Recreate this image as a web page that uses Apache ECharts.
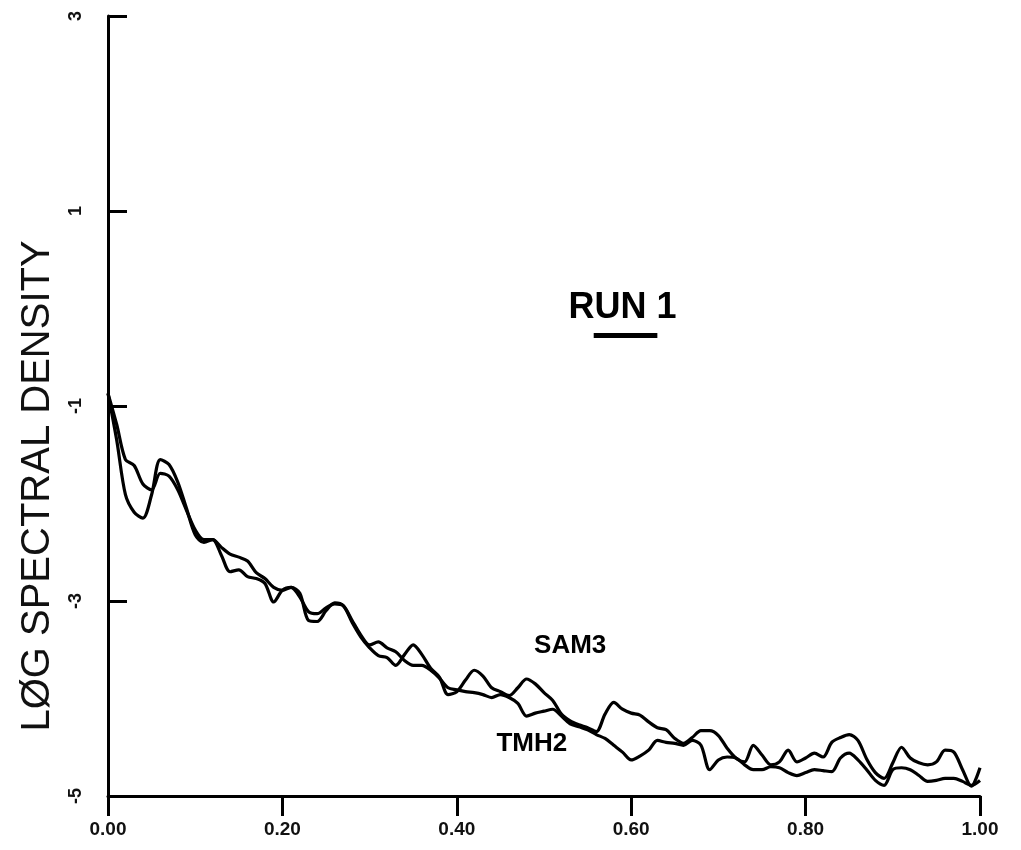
<!DOCTYPE html>
<html>
<head>
<meta charset="utf-8">
<script src="https://cdn.jsdelivr.net/npm/echarts@6/dist/echarts.min.js"></script>
<style>
  html, body { margin: 0; padding: 0; background: #fff; }
  #chart { width: 1021px; height: 850px; }
</style>
</head>
<body>
<div id="chart"></div>
<script>
// frequency (x) and log spectral density for both runs
var freq = [
  0.00, 0.01, 0.02, 0.03, 0.04, 0.05, 0.06, 0.07, 0.08, 0.09,
  0.10, 0.11, 0.12, 0.13, 0.14, 0.15, 0.16, 0.17, 0.18, 0.19,
  0.20, 0.21, 0.22, 0.23, 0.24, 0.25, 0.26, 0.27, 0.28, 0.29,
  0.30, 0.31, 0.32, 0.33, 0.34, 0.35, 0.36, 0.37, 0.38, 0.39,
  0.40, 0.41, 0.42, 0.43, 0.44, 0.45, 0.46, 0.47, 0.48, 0.49,
  0.50, 0.51, 0.52, 0.53, 0.54, 0.55, 0.56, 0.57, 0.58, 0.59,
  0.60, 0.61, 0.62, 0.63, 0.64, 0.65, 0.66, 0.67, 0.68, 0.69,
  0.70, 0.71, 0.72, 0.73, 0.74, 0.75, 0.76, 0.77, 0.78, 0.79,
  0.80, 0.81, 0.82, 0.83, 0.84, 0.85, 0.86, 0.87, 0.88, 0.89,
  0.90, 0.91, 0.92, 0.93, 0.94, 0.95, 0.96, 0.97, 0.98, 0.99,
  1.00
];

var sam3 = [
  -0.87, -1.19, -1.55, -1.61, -1.80, -1.86, -1.69, -1.72, -1.86, -2.07,
  -2.27, -2.37, -2.37, -2.45, -2.52, -2.55, -2.59, -2.71, -2.77, -2.86,
  -2.89, -2.86, -2.92, -3.20, -3.21, -3.10, -3.02, -3.05, -3.22, -3.37,
  -3.48, -3.56, -3.58, -3.66, -3.55, -3.45, -3.55, -3.69, -3.78, -3.96,
  -3.93, -3.81, -3.71, -3.77, -3.89, -3.93, -3.97, -3.89, -3.80, -3.85,
  -3.94, -4.02, -4.16, -4.23, -4.27, -4.30, -4.34, -4.16, -4.04, -4.11,
  -4.15, -4.17, -4.24, -4.30, -4.32, -4.41, -4.46, -4.40, -4.33, -4.33,
  -4.38, -4.51, -4.61, -4.65, -4.48, -4.58, -4.68, -4.65, -4.53, -4.65,
  -4.61, -4.56, -4.60, -4.45, -4.40, -4.37, -4.43, -4.62, -4.76, -4.82,
  -4.66, -4.50, -4.61, -4.66, -4.68, -4.65, -4.53, -4.55, -4.73, -4.90,
  -4.71
];

var tmh2 = [
  -0.87, -1.35, -1.91, -2.09, -2.15, -1.91, -1.55, -1.60, -1.78, -2.05,
  -2.32, -2.40, -2.37, -2.53, -2.70, -2.68, -2.75, -2.77, -2.82, -3.01,
  -2.89, -2.86, -2.96, -3.11, -3.13, -3.07, -3.03, -3.05, -3.20, -3.35,
  -3.45, -3.42, -3.48, -3.52, -3.61, -3.66, -3.66, -3.71, -3.79, -3.89,
  -3.91, -3.93, -3.94, -3.96, -3.99, -3.96, -3.99, -4.05, -4.18, -4.15,
  -4.13, -4.11, -4.18, -4.26, -4.29, -4.32, -4.37, -4.41, -4.48, -4.55,
  -4.63, -4.59, -4.53, -4.43, -4.45, -4.46, -4.48, -4.43, -4.48, -4.73,
  -4.63, -4.60, -4.61, -4.68, -4.73, -4.73, -4.70, -4.71, -4.76, -4.79,
  -4.76, -4.73, -4.74, -4.75, -4.61, -4.56, -4.63, -4.73, -4.84, -4.89,
  -4.73, -4.71, -4.73, -4.79, -4.85, -4.84, -4.82, -4.82, -4.85, -4.89,
  -4.84
];

// hand written notes on the plot, placed in data coordinates
var noteNames = ['RUN 1', 'SAM3', 'TMH2'];
var noteCoords = [[0.590, 0.0], [0.530, -3.46], [0.486, -4.46]];
var noteSizes = [36, 26, 26];
var runUnderline = [[0.557, -0.27], [0.630, -0.27]];

function pairs(xs, ys) {
  var out = [];
  for (var i = 0; i < xs.length; i++) out.push([xs[i], ys[i]]);
  return out;
}

var notes = noteNames.map(function (n, i) {
  return {
    name: n,
    coord: noteCoords[i],
    label: { fontSize: noteSizes[i] }
  };
});

var myChart = echarts.init(document.getElementById('chart'), null, { renderer: 'canvas' });

var lineFont = "'Liberation Sans', 'DejaVu Sans', sans-serif";

var option = {
  backgroundColor: '#ffffff',
  animation: false,
  grid: { left: 108, right: 41, top: 16, bottom: 54, containLabel: false },
  xAxis: {
    type: 'value',
    min: 0,
    max: 1,
    interval: 0.2,
    axisLine: { show: true, onZero: false, lineStyle: { color: '#000', width: 3 } },
    axisTick: { show: true, inside: false, length: 20, lineStyle: { color: '#000', width: 3 } },
    axisLabel: {
      margin: 24,
      color: '#111',
      fontSize: 19,
      fontWeight: 'bold',
      fontFamily: lineFont,
      formatter: function (v) { return v.toFixed(2); }
    },
    splitLine: { show: false }
  },
  yAxis: {
    type: 'value',
    min: -5,
    max: 3,
    interval: 2,
    name: 'LØG SPECTRAL DENSITY',
    nameLocation: 'middle',
    nameGap: 50,
    nameRotate: 90,
    nameTextStyle: {
      color: '#111',
      fontSize: 40,
      fontFamily: lineFont,
      padding: [0, 0, 0, -160]
    },
    axisLine: { show: true, onZero: false, lineStyle: { color: '#000', width: 3 } },
    axisTick: { show: true, inside: true, length: 19, lineStyle: { color: '#000', width: 3 } },
    axisLabel: {
      margin: 23,
      rotate: 90,
      color: '#111',
      fontSize: 18,
      fontWeight: 'bold',
      fontFamily: lineFont
    },
    splitLine: { show: false }
  },
  series: [
    {
      name: 'SAM3',
      type: 'line',
      data: pairs(freq, sam3),
      showSymbol: false,
      smooth: 0.3,
      lineStyle: { color: '#000', width: 3.2 },
      silent: true,
      markPoint: {
        symbol: 'circle',
        symbolSize: 0,
        silent: true,
        label: {
          show: true,
          position: 'inside',
          formatter: '{b}',
          color: '#000',
          fontWeight: 'bold',
          fontFamily: lineFont
        },
        data: notes
      },
      markLine: {
        symbol: 'none',
        silent: true,
        label: { show: false },
        lineStyle: { color: '#000', width: 5, type: 'solid' },
        data: [[{ coord: runUnderline[0] }, { coord: runUnderline[1] }]]
      }
    },
    {
      name: 'TMH2',
      type: 'line',
      data: pairs(freq, tmh2),
      showSymbol: false,
      smooth: 0.3,
      lineStyle: { color: '#000', width: 3.2 },
      silent: true
    }
  ]
};

myChart.setOption(option);
</script>
</body>
</html>
